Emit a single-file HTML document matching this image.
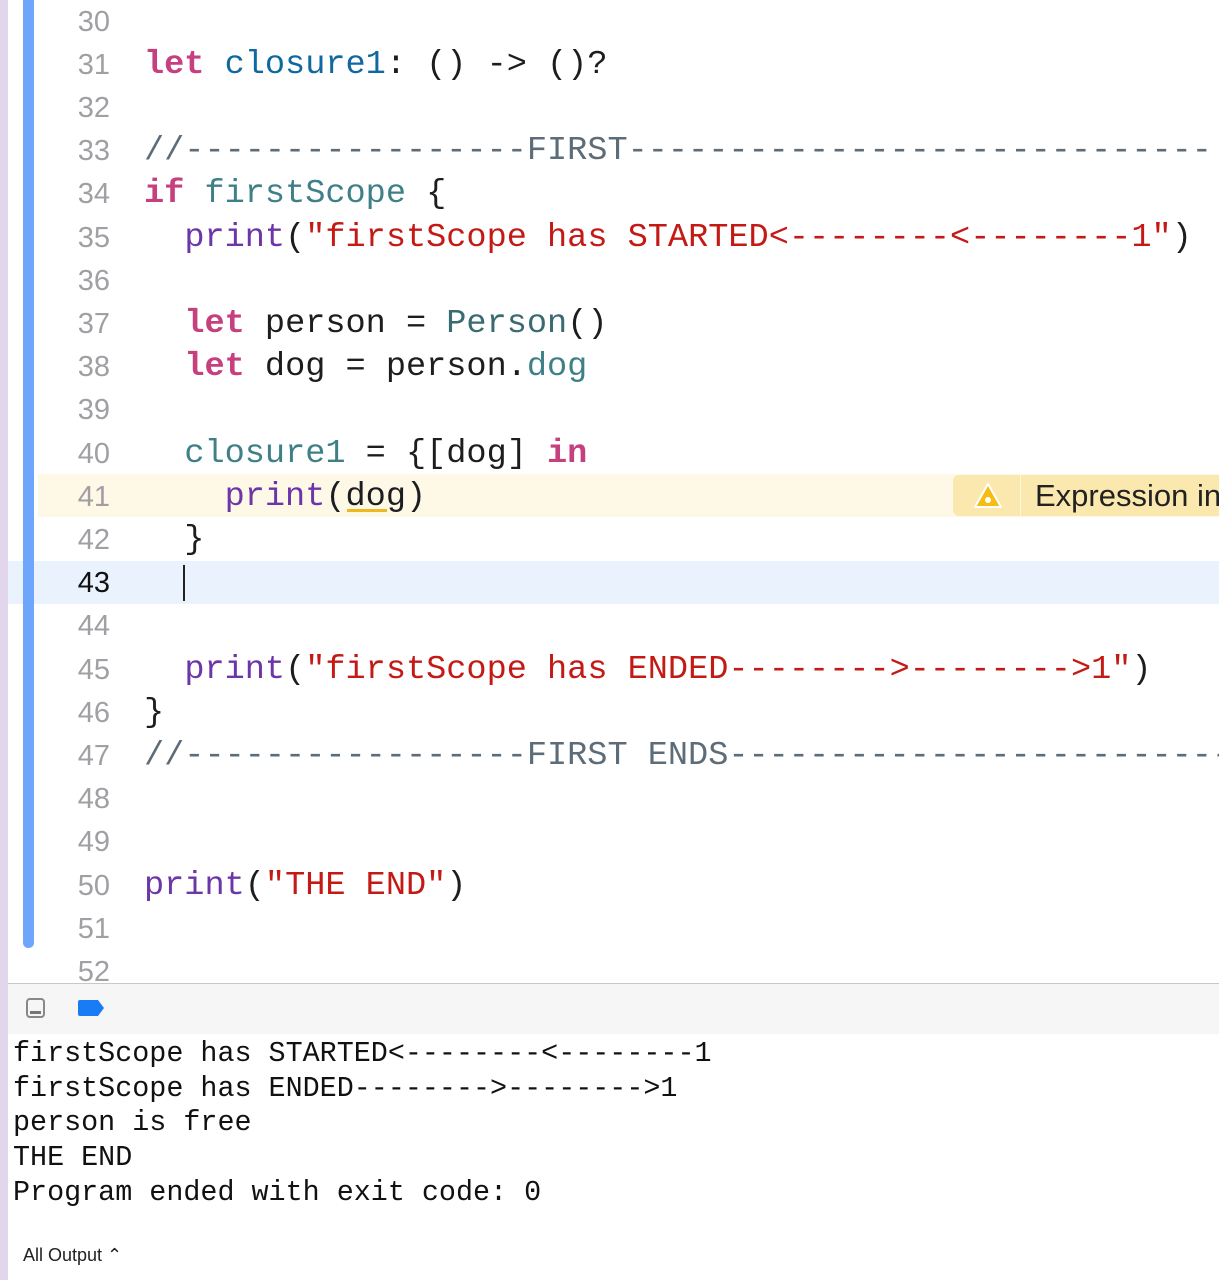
<!DOCTYPE html><html><head><meta charset="utf-8"><style>
body{margin:0;width:1219px;height:1280px;background:#fff;position:relative;overflow:hidden;font-family:"Liberation Mono",monospace}
.l{position:absolute;left:0;width:1219px;height:43.2px;line-height:43.2px;white-space:pre;margin-top:2px}
.n{position:absolute;left:40px;width:70px;text-align:right;font-family:"Liberation Sans",sans-serif;font-size:29px;color:#a0a0a4}
.c{position:absolute;left:144px;font-size:33.6px;color:#1d1d1f}
.k{color:#c6407f;font-weight:bold}.t{color:#0f68a0}.v{color:#3f8088}.p{color:#6c36a9}.s{color:#c41a16}.cm{color:#5d6c79}.ty{color:#3a6a72}
.o{position:absolute;left:13px;font-size:28.4px;line-height:34.7px;white-space:pre;color:#111}
</style></head><body>
<div style="position:absolute;left:0;top:0;width:8px;height:1280px;background:#e2d6ec"></div>
<div style="position:absolute;left:38px;top:474px;width:1181px;height:43px;background:#fef8e7"></div>
<div style="position:absolute;left:8px;top:561px;width:1211px;height:43px;background:#e9f2fd"></div>
<div style="position:absolute;left:23px;top:0;width:11px;height:948px;background:#6ea6fb;border-radius:0 0 5px 5px"></div>
<div style="position:absolute;left:953px;top:475px;width:266px;height:41px;background:#fbe8ae;border-radius:6px 0 0 6px"></div>
<div style="position:absolute;left:1020px;top:475px;width:1px;height:41px;background:#fff6dc"></div>
<svg style="position:absolute;left:972px;top:481px" width="32" height="30"><path d="M16 3 L29 26 L3 26 Z" fill="#f5bd14" stroke="#fff" stroke-width="2" stroke-linejoin="round"/><circle cx="16" cy="19" r="3" fill="#fff"/></svg>
<div style="position:absolute;left:1035px;top:478px;font-family:'Liberation Sans',sans-serif;font-size:31px;color:#222;white-space:nowrap">Expression in</div>
<div style="position:absolute;left:183px;top:565px;width:2px;height:36px;background:#222"></div>
<div style="position:absolute;left:347px;top:509px;width:40px;height:3px;background:#f0b820"></div>

<div class="l" style="top:-1px"><span class="n">30</span></div>
<div class="l" style="top:42px"><span class="n">31</span><span class="c"><span class="k">let</span> <span class="t">closure1</span>: () -&gt; ()?</span></div>
<div class="l" style="top:85px"><span class="n">32</span></div>
<div class="l" style="top:128px"><span class="n">33</span><span class="c cm">//-----------------FIRST-----------------------------</span></div>
<div class="l" style="top:171px"><span class="n">34</span><span class="c"><span class="k">if</span> <span class="v">firstScope</span> {</span></div>
<div class="l" style="top:215px"><span class="n">35</span><span class="c">  <span class="p">print</span>(<span class="s">"firstScope has STARTED&lt;--------&lt;--------1"</span>)</span></div>
<div class="l" style="top:258px"><span class="n">36</span></div>
<div class="l" style="top:301px"><span class="n">37</span><span class="c">  <span class="k">let</span> person = <span class="ty">Person</span>()</span></div>
<div class="l" style="top:344px"><span class="n">38</span><span class="c">  <span class="k">let</span> dog = person.<span class="v">dog</span></span></div>
<div class="l" style="top:387px"><span class="n">39</span></div>
<div class="l" style="top:431px"><span class="n">40</span><span class="c">  <span class="v">closure1</span> = {[dog] <span class="k">in</span></span></div>
<div class="l" style="top:474px"><span class="n">41</span><span class="c">    <span class="p">print</span>(dog)</span></div>
<div class="l" style="top:517px"><span class="n">42</span><span class="c">  }</span></div>
<div class="l" style="top:560px"><span class="n" style="color:#111">43</span></div>
<div class="l" style="top:603px"><span class="n">44</span></div>
<div class="l" style="top:647px"><span class="n">45</span><span class="c">  <span class="p">print</span>(<span class="s">"firstScope has ENDED--------&gt;--------&gt;1"</span>)</span></div>
<div class="l" style="top:690px"><span class="n">46</span><span class="c">}</span></div>
<div class="l" style="top:733px"><span class="n">47</span><span class="c cm">//-----------------FIRST ENDS--------------------------</span></div>
<div class="l" style="top:776px"><span class="n">48</span></div>
<div class="l" style="top:819px"><span class="n">49</span></div>
<div class="l" style="top:863px"><span class="n">50</span><span class="c"><span class="p">print</span>(<span class="s">"THE END"</span>)</span></div>
<div class="l" style="top:906px"><span class="n">51</span></div>
<div class="l" style="top:949px"><span class="n">52</span></div>

<div style="position:absolute;left:8px;top:983px;width:1211px;height:50px;background:#f6f6f6;border-top:1px solid #c8c8c8;border-bottom:1px solid #c8c8c8"></div>
<div style="position:absolute;left:26px;top:998px;width:19px;height:20px;border:2px solid #888;border-radius:4px;box-sizing:border-box"><div style="position:absolute;left:2px;bottom:2px;width:11px;height:3px;background:#777"></div></div>
<svg style="position:absolute;left:78px;top:1000px" width="28" height="16"><path d="M2 0 H20 L26 8 L20 16 H2 Q0 16 0 14 V2 Q0 0 2 0Z" fill="#1a7cf5"/></svg>
<div style="position:absolute;left:8px;top:1034px;width:1211px;height:246px;background:#fff"></div>
<div class="o" style="top:1037px">firstScope has STARTED&lt;--------&lt;--------1
firstScope has ENDED--------&gt;--------&gt;1
person is free
THE END
Program ended with exit code: 0</div>
<div style="position:absolute;left:23px;top:1245px;font-family:'Liberation Sans',sans-serif;font-size:18px;color:#222">All Output ⌃</div>
</body></html>
